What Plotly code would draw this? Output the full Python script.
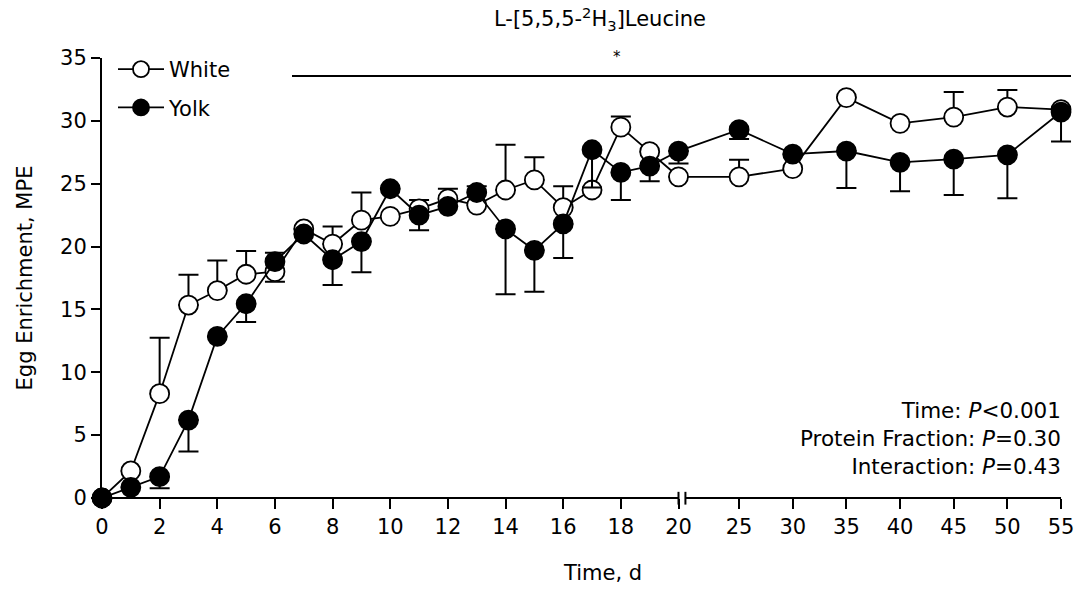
import plotly.graph_objects as go

# ---- data ----
days = [0, 1, 2, 3, 4, 5, 6, 7, 8, 9, 10, 11, 12, 13, 14, 15, 16, 17, 18, 19, 20,
        25, 30, 35, 40, 45, 50, 55]
white = [0, 2.15, 8.3, 15.35, 16.5, 17.8, 18.0, 21.4, 20.2, 22.1, 22.4, 23.0, 23.8, 23.3,
         24.5, 25.3, 23.1, 24.5, 29.5, 27.55, 25.55,
         25.55, 26.2, 31.85, 29.8, 30.3, 31.1, 30.9]
white_err_plus = [0, 0, 4.45, 2.4, 2.4, 1.85, 0, 0, 1.4, 2.2, 0, 0.7, 0.8, 0,
                  3.6, 1.8, 1.7, 0, 0.85, 0, 0,
                  1.35, 0, 0, 0, 2.0, 1.35, 0]
white_err_minus = [0, 0, 0, 0, 0, 0, 0.8, 0, 0, 0, 0, 0, 0, 0,
                   0, 0, 0, 0, 0, 0, 0,
                   0, 0, 0, 0, 0, 0, 0]
yolk = [0, 0.85, 1.7, 6.2, 12.85, 15.45, 18.8, 21.0, 18.95, 20.4, 24.6, 22.5, 23.2, 24.3,
        21.4, 19.7, 21.8, 27.7, 25.9, 26.4, 27.6,
        29.3, 27.35, 27.6, 26.7, 26.95, 27.3, 30.7]
yolk_err_plus = [0, 0, 0, 0, 0, 0, 0.7, 0, 0, 0, 0, 0, 0, 0.5,
                 0, 0, 0, 0, 0, 0, 0,
                 0, 0, 0, 0, 0, 0, 0]
yolk_err_minus = [0, 0, 0.93, 2.5, 0, 1.45, 0, 0, 2.0, 2.45, 0, 1.2, 0, 0,
                  5.2, 3.3, 2.7, 3.0, 2.2, 1.2, 1.0,
                  0.75, 0, 2.95, 2.3, 2.85, 3.45, 2.35]
early_ticks = [0, 2, 4, 6, 8, 10, 12, 14, 16, 18, 20]
late_ticks = [25, 30, 35, 40, 45, 50, 55]
y_ticks = [0, 5, 10, 15, 20, 25, 30, 35]

# ---- broken axis scale: 0-20 linear, then 20-55 compressed ----
BREAK_DAY = 20
BREAK_GAP = 0.24
LATE_SCALE = 0.3723


def axis_pos(d):
    if d <= BREAK_DAY:
        return d
    return BREAK_DAY + BREAK_GAP + (d - BREAK_DAY) * LATE_SCALE


x_pos = [axis_pos(d) for d in days]
x_end = axis_pos(55)
EXT = 0.45
tickvals = [axis_pos(t) for t in early_ticks + late_ticks]
ticktext = [str(t) for t in early_ticks + late_ticks]

FONT = "DejaVu Sans"
FS = 21

# layout geometry (pixels)
L, R, T, B = 102, 6, 58, 94
W = 1080 - L - R
H = 592 - T - B


def px_x(px):
    return (px - L) / W


def px_y(py):
    return (592 - B - py) / H


fig = go.Figure()

fig.add_trace(go.Scatter(
    x=x_pos, y=white, mode="lines+markers", name="White", legendgroup="w",
    cliponaxis=False,
    line=dict(color="black", width=1.8),
    marker=dict(symbol="circle", size=19, color="white",
                line=dict(color="black", width=1.8)),
    error_y=dict(type="data", symmetric=False, array=white_err_plus,
                 arrayminus=white_err_minus, color="black", thickness=2, width=10),
))
fig.add_trace(go.Scatter(
    x=x_pos, y=yolk, mode="lines+markers", name="Yolk", legendgroup="y",
    cliponaxis=False,
    line=dict(color="black", width=1.8),
    marker=dict(symbol="circle", size=19, color="black",
                line=dict(color="black", width=1.8)),
    error_y=dict(type="data", symmetric=False, array=yolk_err_plus,
                 arrayminus=yolk_err_minus, color="black", thickness=2, width=10),
))

# axis line segments with a break
gap_l = axis_pos(BREAK_DAY)
gap_r = BREAK_DAY + BREAK_GAP
shapes = [
    dict(type="line", xref="x", yref="paper", x0=0, x1=gap_l, y0=0, y1=0,
         line=dict(color="black", width=2), layer="above"),
    dict(type="line", xref="x", yref="paper", x0=gap_r, x1=x_end, y0=0, y1=0,
         line=dict(color="black", width=2), layer="above"),
    dict(type="line", xref="x", yref="paper", x0=gap_l, x1=gap_l, y0=-0.015, y1=0.014,
         line=dict(color="black", width=2), layer="above"),
    dict(type="line", xref="x", yref="paper", x0=gap_r, x1=gap_r, y0=-0.015, y1=0.014,
         line=dict(color="black", width=2), layer="above"),
    # significance bar
    dict(type="line", xref="paper", yref="paper", x0=px_x(292), x1=px_x(1071),
         y0=px_y(76), y1=px_y(76), line=dict(color="black", width=2)),
]

annotations = [
    dict(text="*", xref="paper", yref="paper", x=px_x(617), y=px_y(57), showarrow=False,
         font=dict(family=FONT, size=15, color="black"), xanchor="center", yanchor="middle"),
    dict(text="Time: <i>P</i><0.001<br>Protein Fraction: <i>P</i>=0.30<br>Interaction: <i>P</i>=0.43",
         xref="paper", yref="paper", x=px_x(1063), y=px_y(438), xanchor="right", yanchor="middle",
         align="right", showarrow=False, font=dict(family=FONT, size=21.5, color="black")),
    dict(text="Time, d", xref="paper", yref="paper", x=px_x(602), y=px_y(573),
         xanchor="center", yanchor="middle", showarrow=False,
         font=dict(family=FONT, size=FS, color="black")),
]

fig.update_layout(
    width=1080, height=592,
    margin=dict(l=L, r=R, t=T, b=B),
    paper_bgcolor="white", plot_bgcolor="white",
    font=dict(family=FONT, size=FS, color="black"),
    title=dict(text="L-[5,5,5-<sup>2</sup>H<sub>3</sub>]Leucine", x=600 / 1080, xanchor="center",
               y=1 - 19 / 592, yanchor="middle", font=dict(family=FONT, size=21, color="black")),
    showlegend=True,
    legend=dict(x=px_x(113), y=px_y(49), xanchor="left", yanchor="top", bgcolor="rgba(0,0,0,0)",
                font=dict(family=FONT, size=21, color="black"), tracegroupgap=8,
                traceorder="grouped", itemwidth=46),
    shapes=shapes, annotations=annotations,
    xaxis=dict(range=[0, x_end + EXT], tickmode="array", tickvals=tickvals, ticktext=ticktext,
               showgrid=False, zeroline=False, showline=False,
               ticks="outside", ticklen=10, tickwidth=2, tickcolor="black",
               tickfont=dict(family=FONT, size=FS, color="black")),
    yaxis=dict(range=[0, 35], tickmode="array", tickvals=y_ticks,
               showgrid=False, zeroline=False, showline=True, linecolor="black", linewidth=2,
               ticks="outside", ticklen=9, tickwidth=2, tickcolor="black",
               tickfont=dict(family=FONT, size=FS, color="black"),
               title=dict(text="Egg Enrichment, MPE", font=dict(family=FONT, size=FS, color="black"),
                          standoff=22)),
)

fig.write_html("out.html")
